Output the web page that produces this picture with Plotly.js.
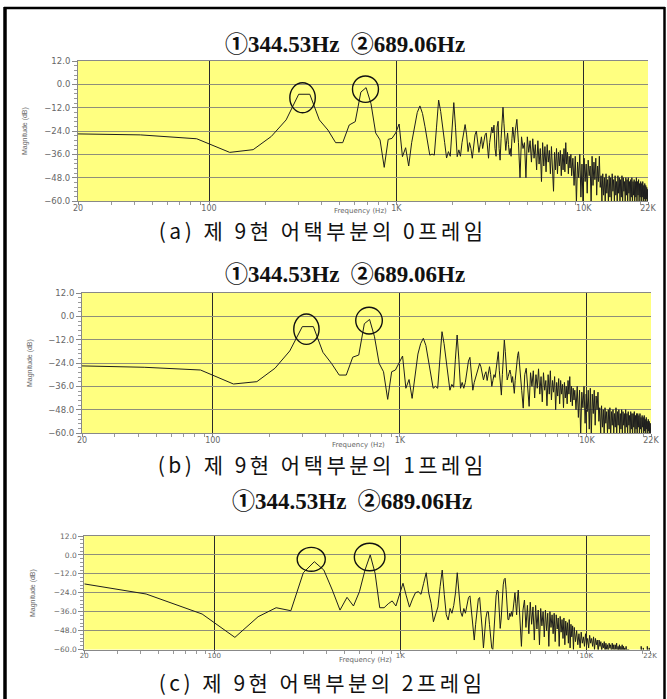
<!DOCTYPE html>
<html><head><meta charset="utf-8">
<script src="https://cdn.plot.ly/plotly-3.0.1.min.js"></script>
<style>
html,body{margin:0;padding:0;background:#fff;}
#chart{width:667px;height:699px;}
#chart text.annotation-text[style*="21px"]{letter-spacing:3.5px;}
</style>
</head><body><div id="chart"></div>
<script>
// Frequency grid of the spectrum (Hz)
const freqHz = [
20,43,86,129,172,215,258,301,345,388,
431,474,517,560,603,646,689,732,775,818,
861,904,947,991,1034,1077,1120,1163,1206,1249,
1292,1335,1378,1421,1464,1507,1550,1593,1637,1680,
1723,1766,1809,1852,1895,1938,1981,2024,2067,2110,
2153,2196,2239,2283,2326,2369,2412,2455,2498,2541,
2584,2627,2670,2713,2756,2799,2842,2885,2929,2972,
3015,3058,3101,3144,3187,3230,3273,3316,3359,3402,
3445,3488,3531,3575,3618,3661,3704,3747,3790,3833,
3876,3919,3962,4005,4048,4091,4134,4177,4221,4264,
4307,
4393,4479,4565,4651,4737,4823,4910,4996,5082,5168,
5254,5340,5426,5512,5599,5685,5771,5857,5943,6029,
6115,6202,6288,6374,6460,6546,6632,6718,6804,6891,
6977,7063,7149,7235,7321,7407,7493,7580,7666,7752,
7838,7924,8010,8096,8183,8269,8355,8441,8527,8613,
8742,8872,9001,9130,9259,9388,9518,9647,9776,9905,
10034,10164,10293,10422,10551,10680,10810,10939,11068,11197,
11326,11456,11585,11714,11843,11972,12102,12231,12360,12489,
12618,12748,12877,13006,13135,13264,13394,13523,13652,13781,
13910,14040,14169,14298,14427,14556,14686,14815,14944,15073,
15202,15332,15461,15590,15719,15848,15977,16107,16236,16365,
16494,16623,16753,16882,17011,17140,17269,17399,17528,17657,
17786,17915,18045,18174,18303,18432,18561,18691,18820,18949,
19078,19207,19337,19466,19595,19724,19853,19983,20112,20241,
20370,20499,20629,20758,20887,21016,21145,21275,21404,21533,
21662,21791,21921,22050];

// (a) frame 0 magnitude (dB)
const magFrame0 = [
-25.5,-26.0,-28.0,-35.0,-33.6,-26.8,-18.3,-5.1,-5.1,-18.3,
-23.5,-30.0,-30.0,-20.9,-19.2,-4.0,-1.7,-10.0,-25.0,-28.6,
-42.7,-28.3,-27.8,-25.0,-20.4,-37.2,-32.6,-42.0,-30.0,-21.0,
-14.5,-11.1,-15.0,-21.8,-30.0,-36.4,-35.9,-36.4,-22.0,-8.1,
-14.0,-21.0,-30.0,-37.9,-34.6,-37.0,-22.0,-9.4,-22.0,-37.2,
-33.7,-37.0,-30.0,-24.0,-20.7,-26.0,-34.6,-30.0,-33.0,-38.0,
-30.0,-26.0,-24.0,-30.0,-35.0,-31.0,-27.0,-33.0,-29.0,-26.0,
-25.0,-30.0,-38.0,-30.0,-27.0,-22.0,-25.0,-21.0,-33.0,-37.0,
-22.0,-19.0,-33.0,-39.0,-28.0,-17.0,-11.8,-20.0,-27.0,-34.0,
-29.0,-25.0,-31.0,-36.0,-33.0,-37.0,-28.0,-22.0,-26.0,-30.0,
-24.0,
-18,-30,-48,-27,-33,-30,-48,-27,-35,-29,
-40,-28,-38,-31,-44,-29,-41,-33,-50,-30,
-42,-32,-45,-31,-40,-34,-46,-32,-43,-55,
-35,-44,-33,-46,-35,-42,-34,-47,-36,-44,
-33,-45,-30,-41,-35,-46,-37,-43,-36,-47,
-38,-52,-37,-61,-40,-48,-36,-58,-41,-62,
-38,-50,-41,-56,-39,-47,-42,-61,-37,-52,
-40,-49,-38,-57,-42,-50,-37,-53,-47,-60,
-46,-57,-48,-61,-46,-56,-49,-60,-47,-58,
-48,-62,-46,-55,-49,-60,-47,-57,-50,-61,
-47,-56,-48,-60,-49,-58,-47,-62,-48,-55,
-50,-60,-48,-57,-49,-61,-48,-56,-50,-60,
-49,-58,-48,-62,-50,-57,-49,-60,-50,-58,
-48,-61,-50,-57,-49,-60,-51,-58,-50,-62,
-51,-58,-50,-60,-52,-59,-51,-62,-52,-59,
-53,-61,-54,-60];

// (b) frame 1 magnitude (dB)
const magFrame1 = [
-25.5,-26.2,-27.6,-34.8,-33.6,-26.7,-17.8,-5.3,-5.3,-18.5,
-24.2,-30.2,-30.2,-21.0,-19.9,-3.8,-1.6,-10.5,-24.2,-28.5,
-42.7,-28.5,-27.6,-24.0,-20.4,-37.0,-32.5,-42.2,-30.0,-19.4,
-14.0,-11.3,-15.0,-22.5,-30.0,-37.0,-36.0,-37.0,-22.0,-7.9,
-14.0,-22.0,-32.0,-38.0,-35.0,-36.5,-22.0,-9.6,-22.0,-37.0,
-34.0,-37.0,-34.0,-28.0,-23.0,-21.1,-30.0,-38.0,-34.0,-31.4,
-30.0,-27.0,-24.2,-26.0,-30.0,-32.7,-30.0,-28.5,-33.0,-28.0,
-25.9,-30.0,-36.0,-33.0,-30.0,-31.4,-26.0,-22.0,-18.2,-28.0,
-36.0,-40.5,-30.0,-20.0,-12.2,-18.0,-27.0,-32.7,-31.0,-29.0,
-27.6,-30.0,-34.0,-31.0,-36.0,-39.6,-33.0,-27.0,-22.0,-20.0,
-18.2,
-30,-38,-47.2,-30,-26.7,-35,-46.3,-29,-36,-28,
-42,-30,-37,-27,-40,-31,-44,-29,-38,-33,
-46,-30,-40,-28,-43,-33,-39,-31,-48,-34,
-41,-32,-45,-33,-40,-35,-47,-34,-42,-36,
-45,-33,-40,-31,-44,-36,-46,-37,-43,-38,
-48,-36,-52,-38,-61,-39,-47,-36,-55,-40,
-49,-38,-58,-37,-62,-40,-50,-38,-56,-41,
-48,-39,-54,-47,-60,-46,-57,-48,-61,-47,
-55,-49,-60,-48,-58,-47,-62,-49,-56,-48,
-60,-50,-57,-47,-61,-49,-56,-48,-60,-50,
-58,-48,-62,-49,-56,-50,-60,-48,-57,-50,
-61,-49,-56,-51,-60,-49,-58,-50,-62,-50,
-57,-49,-60,-51,-58,-50,-61,-50,-57,-51,
-60,-50,-58,-52,-62,-51,-57,-52,-60,-51,
-59,-53,-61,-52,-58,-54,-61,-53,-59,-54,
-62,-55,-60,-58];

// (c) frame 2 magnitude (dB)
const magFrame2 = [
-18.4,-24.8,-37.5,-52.3,-39.2,-33.5,-35.4,-11.3,-4.3,-9.6,
-22.3,-35.0,-26.9,-32.4,-23.3,-9.6,0.0,-11.7,-33.5,-33.5,
-31.0,-29.2,-32.4,-25.0,-18.0,-26.0,-33.1,-28.0,-24.0,-23.3,
-25.0,-18.0,-11.3,-24.0,-30.7,-42.4,-38.0,-33.0,-20.0,-9.6,
-25.0,-38.0,-41.3,-34.0,-37.0,-32.0,-24.0,-11.3,-24.0,-36.0,
-39.0,-34.0,-37.0,-31.0,-27.0,-26.0,-36.0,-46.0,-54.0,-44.0,
-33.0,-28.0,-27.0,-35.0,-47.0,-59.0,-48.0,-40.0,-36.0,-36.0,
-44.0,-52.0,-59.0,-60.0,-46.0,-34.0,-26.0,-22.3,-23.0,-35.0,
-46.6,-40.0,-28.0,-19.0,-15.5,-14.8,-22.0,-33.0,-41.0,-41.0,
-37.0,-39.0,-36.0,-39.0,-33.0,-27.0,-24.0,-31.0,-38.0,-28.0,
-22.3,
-40,-58,-35,-28.6,-46,-32,-50,-30,-44,-33,
-54,-32,-47,-35,-57,-34,-45,-36,-52,-35,
-48,-37,-58,-36,-46,-38,-50,-37,-55,-38,
-47,-40,-58,-39,-49,-41,-53,-40,-57,-42,
-51,-43,-56,-41,-59,-44,-52,-45,-60,-46,
-55,-48,-57,-50,-59,-49,-56,-52,-58,-50,
-57,-53,-59,-51,-56,-53,-58,-52,-60,-53,
-57,-54,-62,-54,-58,-55,-61,-56,-59,-55,
-62,-56,-60,-57,-63,-56,-59,-57,-63,-56,
-60,-57,-64,-57,-60,-56,-63,-58,-61,-57,
-64,-58,-62,-57,-65,-58,-62,-59,-65,-58,
-63,-60,-66,-60,-64,-61,-66,-62,-66,-63,
-67,-62,-66,-64,-68,-64,-67,-62,-66,-65,
-68,-63,-67,-65,-68,-58,-66,-64,-68,-59,
-66,-65,-68,-66,-68,-67,-69,-58,-66,-67,
-68,-59,-66,-68];

const xTickVals = [20, 100, 1000, 10000, 22000];
const xTickText = ['20', '100', '1K', '10K', '22K'];
const xMinorVals = [30,40,50,60,70,80,90,200,300,400,500,600,700,800,900,2000,3000,4000,5000,6000,7000,8000,9000,20000];
const yTickStep = 12;
const peakTitle = '①344.53Hz\u00a0\u00a0②689.06Hz';
const captions = ['(a) 제 9현 어택부분의 0프레임', '(b) 제 9현 어택부분의 1프레임', '(c) 제 9현 어택부분의 2프레임'];
const yLabel = 'Magnitude (dB)';
const xLabel = 'Frequency (Hz)';
const frames = [magFrame0, magFrame1, magFrame2];

const W = 667, H = 699;
const px = v => v / W, py = v => 1 - v / H;

// panel geometry (pixels): left, right, top, bottom
const panels = [
  {l: 78, r: 648, t: 61, b: 201, title: 45, tx: 345, cap: 230, ylab: [25, 131], xlab: [360, 210.5], tf: 8.5,
   circles: [[270, 369, -14.6, 0.8], [583, 802, -9.3, 4.3]]},
  {l: 82, r: 651, t: 293, b: 433, title: 274, tx: 345, cap: 464, ylab: [30, 363], xlab: [358, 444.5], tf: 8.5,
   circles: [[271, 370, -14.4, 1.2], [581, 806, -9.1, 4.7]]},
  {l: 84.3, r: 650, t: 536, b: 649.5, title: 501, tx: 352, cap: 682, ylab: [33, 593], xlab: [365, 659.5], tf: 7.5,
   circles: [[279, 395, -10.4, 4.8], [566, 827, -10.0, 7.4]]}
];

const traces = [];
const layout = {
  width: W, height: H, margin: {l: 0, r: 0, t: 0, b: 0},
  paper_bgcolor: '#ffffff', plot_bgcolor: '#FFFF80',
  showlegend: false, annotations: [], shapes: []
};

panels.forEach((p, i) => {
  const n = i === 0 ? '' : String(i + 1);
  traces.push({
    type: 'scatter', mode: 'lines', x: freqHz, y: frames[i],
    xaxis: 'x' + n, yaxis: 'y' + n,
    line: {color: '#1e1e1e', width: 1}, hoverinfo: 'skip'
  });
  layout['xaxis' + n] = {
    type: 'log', domain: [px(p.l), px(p.r)], anchor: 'y' + n,
    range: [Math.log10(20), Math.log10(22000)],
    tickmode: 'array', tickvals: xTickVals, ticktext: xTickText,
    ticks: 'outside', ticklen: 3, tickcolor: '#888', ticklabelstandoff: -4,
    tickfont: {family: 'DejaVu Sans', size: p.tf - 0.5, color: '#666'},
    showline: true, mirror: true, linecolor: '#888', linewidth: 1,
    showgrid: true, gridcolor: '#2a2a2a', gridwidth: 1, zeroline: false,
    minor: {tickmode: 'array', tickvals: xMinorVals, ticks: 'outside', ticklen: 3, tickcolor: '#999', showgrid: false},
    fixedrange: true
  };
  layout['yaxis' + n] = {
    domain: [py(p.b), py(p.t)], anchor: 'x' + n,
    range: [-60, 12], tickmode: 'linear', tick0: 0, dtick: yTickStep, tickformat: '.1f',
    ticks: 'outside', ticklen: 5, tickcolor: '#888',
    tickfont: {family: 'DejaVu Sans', size: p.tf, color: '#666'},
    showline: true, mirror: false, linecolor: '#888', linewidth: 1,
    showgrid: true, gridcolor: '#8f8f7a', gridwidth: 1, zeroline: false,
    minor: {dtick: 2.4, ticks: 'outside', ticklen: 3, tickcolor: '#999', showgrid: false},
    fixedrange: true
  };
  layout.annotations.push(
    {text: peakTitle, xref: 'paper', yref: 'paper', x: px(p.tx), y: py(p.title),
     xanchor: 'center', yanchor: 'middle', showarrow: false,
     font: {family: 'Liberation Serif, Noto Sans CJK KR', size: 23, color: '#111', weight: 'bold'}},
    {text: captions[i], xref: 'paper', yref: 'paper', x: px(322), y: py(p.cap),
     xanchor: 'center', yanchor: 'middle', showarrow: false,
     font: {family: 'Noto Sans CJK KR', size: 21, color: '#111'}},
    {text: yLabel, xref: 'paper', yref: 'paper', x: px(p.ylab[0]), y: py(p.ylab[1]), textangle: -90,
     xanchor: 'center', yanchor: 'middle', showarrow: false,
     font: {family: 'Liberation Sans Narrow, Liberation Sans', size: 7, color: '#666'}},
    {text: xLabel, xref: 'paper', yref: 'paper', x: px(p.xlab[0]), y: py(p.xlab[1]),
     xanchor: 'center', yanchor: 'middle', showarrow: false,
     font: {family: 'DejaVu Sans', size: 7, color: '#666'}}
  );
  p.circles.forEach(c => layout.shapes.push({
    type: 'circle', xref: 'x' + n, yref: 'y' + n, x0: c[0], x1: c[1], y0: c[2], y1: c[3],
    line: {color: '#111', width: 1.4}, fillcolor: 'rgba(0,0,0,0)'
  }));
});

// outer frame of the figure
layout.shapes.push(
  {type: 'line', xref: 'paper', yref: 'paper', x0: px(5), x1: px(5), y0: 0, y1: py(7), line: {color: '#000', width: 3.5}},
  {type: 'line', xref: 'paper', yref: 'paper', x0: px(4), x1: px(665), y0: py(8), y1: py(8), line: {color: '#000', width: 2.5}},
  {type: 'line', xref: 'paper', yref: 'paper', x0: px(664.5), x1: px(664.5), y0: 0, y1: py(7), line: {color: '#000', width: 2.5}}
);

Plotly.newPlot('chart', traces, layout, {staticPlot: true, displayModeBar: false});
</script></body></html>
